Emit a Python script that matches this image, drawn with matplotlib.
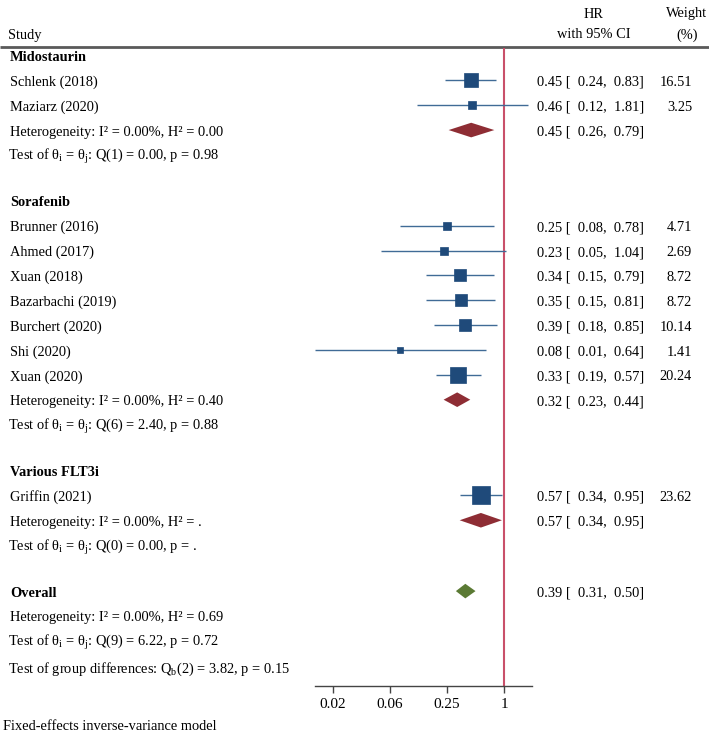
import numpy as np
import matplotlib
matplotlib.use("Agg")
import matplotlib.pyplot as plt

plt.rcParams['font.family'] = ['Liberation Serif', 'DejaVu Serif']
plt.rcParams['mathtext.fontset'] = 'custom'
plt.rcParams['mathtext.rm'] = 'Liberation Serif'
plt.rcParams['mathtext.it'] = 'Liberation Serif'
plt.rcParams['mathtext.bf'] = 'Liberation Serif:bold'

# ---------------- data ----------------
groups = ["Midostaurin", "Sorafenib", "Various FLT3i"]
group_studies = [
    ["Schlenk (2018)", "Maziarz (2020)"],
    ["Brunner (2016)", "Ahmed (2017)", "Xuan (2018)", "Bazarbachi (2019)",
     "Burchert (2020)", "Shi (2020)", "Xuan (2020)"],
    ["Griffin (2021)"],
]
group_hr = [[0.45, 0.46], [0.25, 0.23, 0.34, 0.35, 0.39, 0.08, 0.33], [0.57]]
group_lo = [[0.24, 0.12], [0.08, 0.05, 0.15, 0.15, 0.18, 0.01, 0.19], [0.34]]
group_hi = [[0.83, 1.81], [0.78, 1.04, 0.79, 0.81, 0.85, 0.64, 0.57], [0.95]]
group_wt = [[16.51, 3.25], [4.71, 2.69, 8.72, 8.72, 10.14, 1.41, 20.24], [23.62]]

sub_hr = [0.45, 0.32, 0.57]
sub_lo = [0.26, 0.23, 0.34]
sub_hi = [0.79, 0.44, 0.95]
sub_het = ["I\u00b2 = 0.00%, H\u00b2 = 0.00", "I\u00b2 = 0.00%, H\u00b2 = 0.40", "I\u00b2 = 0.00%, H\u00b2 = ."]
sub_q = ["Q(1) = 0.00, p = 0.98", "Q(6) = 2.40, p = 0.88", "Q(0) = 0.00, p = ."]

overall_hr, overall_lo, overall_hi = 0.39, 0.31, 0.50
overall_het = "I\u00b2 = 0.00%, H\u00b2 = 0.69"
overall_q = "Q(9) = 6.22, p = 0.72"
group_diff = "Q$_\\mathrm{b}$(2) = 3.82, p = 0.15"

tick_vals = [4.0**-3, 4.0**-2, 4.0**-1, 1.0]
tick_labels = ["0.02", "0.06", "0.25", "1"]

# ---------------- layout ----------------
W, H = 709, 736
fig = plt.figure(figsize=(W / 100, H / 100), dpi=100)
axt = fig.add_axes([0, 0, 1, 1])
axt.set_xlim(0, W)
axt.set_ylim(H, 0)
axt.axis('off')

ax_left, ax_right, ax_top, ax_bot = 315, 532, 48, 686
ax = fig.add_axes([ax_left / W, (H - ax_bot) / H, (ax_right - ax_left) / W, (ax_bot - ax_top) / H])
ax.set_xscale('log')
ax.set_xlim(0.01006, 1.976)
ax.set_ylim(ax_bot, ax_top)
ax.patch.set_alpha(0)
for s in ['top', 'left', 'right']:
    ax.spines[s].set_visible(False)
ax.spines['bottom'].set_color('#444444')
ax.spines['bottom'].set_linewidth(1.0)
ax.set_yticks([])
ax.set_xticks(tick_vals)
ax.set_xticklabels(tick_labels)
ax.xaxis.set_minor_locator(matplotlib.ticker.NullLocator())
ax.tick_params(axis='x', length=5, width=1, color='#444444', labelsize=11, pad=4)

FS = 10.4
TX = 10
TXM = 8.5   # mathtext lines carry a small left bearing
HRX = 537
WX = 692
dy_text = 2.0

# header
axt.text(TX - 2, 35, "Study", fontsize=FS, va='center', ha='left')
axt.text(594, 14, "HR", fontsize=FS, va='center', ha='center')
axt.text(594, 35, "with 95% CI", fontsize=FS, va='center', ha='center')
axt.text(687, 14, "Weight", fontsize=FS, va='center', ha='center')
axt.text(687, 35, "(%)", fontsize=FS, va='center', ha='center')
axt.plot([0, W], [47, 47], color='#5a5a5a', lw=2, solid_capstyle='butt')

ax.axvline(1.0, color='#c9506a', lw=1.5, zorder=1)

SQ = '#1f4a7a'
LN = '#406b96'
RED = '#8e2d34'
GRN = '#5b7a34'


def fmt_ci(h, l, u):
    return f"{h:.2f} [  {l:.2f},  {u:.2f}]"


def diamond(y, lo, est, hi, color):
    hh = 7.3
    ax.fill([lo, est, hi, est], [y, y - hh, y, y + hh], color=color, lw=0, zorder=3)


row_h = 24.85
gap = 46.0
y = 55.5
for gi, g in enumerate(groups):
    axt.text(TX, y + dy_text, g, fontsize=FS, fontweight='bold', va='center')
    y += row_h
    for si, name in enumerate(group_studies[gi]):
        h, l, u, w = group_hr[gi][si], group_lo[gi][si], group_hi[gi][si], group_wt[gi][si]
        axt.text(TX, y + dy_text, name, fontsize=FS, va='center')
        ax.hlines(y, l, u, color=LN, lw=1.0, zorder=2)
        side = 3.1 * np.sqrt(w) + 2.0
        ax.plot([h], [y], marker='s', ms=side / 1.389, mfc=SQ, mec=SQ, mew=0.5, zorder=4)
        axt.text(HRX, y + dy_text, fmt_ci(h, l, u), fontsize=FS, va='center')
        axt.text(WX, y + dy_text, f"{w:.2f}", fontsize=FS, va='center', ha='right')
        y += row_h
    axt.text(TX, y + dy_text, "Heterogeneity: " + sub_het[gi], fontsize=FS, va='center')
    diamond(y, sub_lo[gi], sub_hr[gi], sub_hi[gi], RED)
    axt.text(HRX, y + dy_text, fmt_ci(sub_hr[gi], sub_lo[gi], sub_hi[gi]), fontsize=FS, va='center')
    y += row_h
    axt.text(TXM, y + dy_text, r"Test of $\mathrm{\theta_i}$ = $\mathrm{\theta_j}$: " + sub_q[gi],
             fontsize=FS, va='center')
    y += gap

axt.text(TX, y + dy_text, "Overall", fontsize=FS, fontweight='bold', va='center')
diamond(y, overall_lo, overall_hr, overall_hi, GRN)
axt.text(HRX, y + dy_text, fmt_ci(overall_hr, overall_lo, overall_hi), fontsize=FS, va='center')
y += row_h
axt.text(TX, y + dy_text, "Heterogeneity: " + overall_het, fontsize=FS, va='center')
y += row_h
axt.text(TXM, y + dy_text, r"Test of $\mathrm{\theta_i}$ = $\mathrm{\theta_j}$: " + overall_q,
         fontsize=FS, va='center')
y += 27
axt.text(TXM, y + dy_text, "Test of group differences: " + group_diff, fontsize=FS, va='center')

axt.text(3, 727, "Fixed-effects inverse-variance model", fontsize=FS, va='center')

fig.savefig("out.png", dpi=100)
